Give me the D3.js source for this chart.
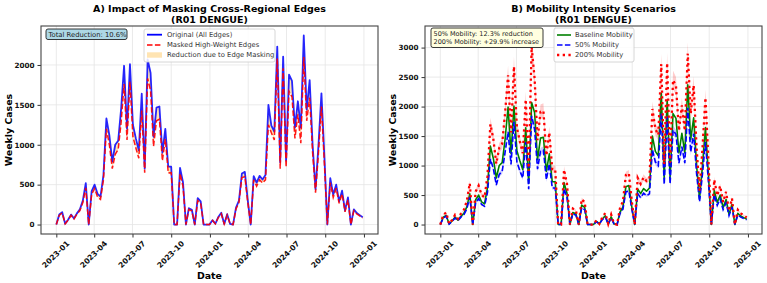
<!DOCTYPE html>
<html>
<head>
<meta charset="utf-8">
<script src="https://cdn.jsdelivr.net/npm/d3@7"></script>
<style>
  body { margin: 0; background: #fff; }
  svg { display: block; font-family: 'DejaVu Sans', sans-serif; }
</style>
</head>
<body>
<div id="chart"></div>
<script>
  'use strict';

  // weekly series, first week starting 2023-01-01
  var startDate = '2023-01-01';

  var original = [0, 125, 155, 10, 60, 125, 75, 140, 190, 300, 520, 0, 420, 500, 385, 350, 620, 1330, 1120, 790,
    1000, 1050, 1450, 1990, 1200, 2010, 1250, 1080, 930, 1640, 700, 2070, 1900, 1100, 1465, 1480, 900, 1200, 725, 725,
    0, 0, 710, 530, 0, 205, 185, 0, 330, 290, 0, 0, 0, 55, 10, 95, 148, 8, 130, 8,
    0, 212, 300, 640, 660, 300, 0, 606, 525, 610, 565, 620, 1500, 1240, 1165, 2230, 780, 2105, 800, 1880,
    1800, 1215, 1545, 1215, 2370, 1440, 1810, 1000, 440, 1000, 1645, 850, 0, 580, 375, 500, 290, 425, 175, 340,
    0, 190, 145, 118, 92];

  var masked = [0, 115, 145, 9, 55, 115, 70, 130, 175, 275, 460, 0, 380, 450, 345, 315, 560, 1200, 1000, 700,
    880, 940, 1280, 1760, 1060, 1790, 1100, 960, 830, 1430, 650, 1830, 1680, 980, 1300, 1320, 800, 1070, 645, 650,
    0, 0, 640, 480, 0, 190, 170, 0, 300, 265, 0, 0, 0, 50, 9, 88, 135, 7, 118, 7,
    0, 195, 275, 590, 600, 275, 0, 560, 480, 560, 520, 560, 1250, 1150, 1060, 2080, 700, 1960, 720, 1670,
    1600, 1080, 1380, 1020, 2100, 1300, 1590, 900, 400, 900, 1480, 760, 0, 525, 340, 455, 265, 385, 160, 310,
    0, 172, 132, 108, 84];

  var baseline = original.slice();

  var mob50 = [0, 110, 140, 9, 53, 110, 66, 125, 168, 265, 470, 0, 370, 440, 340, 310, 540, 1110, 950, 670,
    850, 900, 1230, 1570, 1020, 1740, 1060, 910, 790, 1400, 600, 1840, 1620, 940, 1240, 1260, 760, 1030, 620, 620,
    0, 0, 610, 455, 0, 180, 160, 0, 285, 250, 0, 0, 0, 48, 9, 83, 128, 7, 112, 7,
    0, 185, 262, 555, 570, 260, 0, 525, 455, 530, 490, 520, 1270, 1060, 1000, 1890, 680, 1830, 690, 1600,
    1530, 1040, 1320, 1040, 1980, 1230, 1540, 860, 385, 860, 1400, 730, 0, 505, 325, 435, 252, 370, 152, 295,
    0, 165, 126, 103, 80];

  var mob200 = [0, 165, 205, 13, 78, 165, 98, 185, 250, 400, 700, 0, 560, 660, 505, 460, 820, 1700, 1450, 1030,
    1300, 1370, 1900, 2530, 1560, 2680, 1640, 1410, 1210, 2120, 910, 3010, 2480, 1430, 1910, 1930, 1170, 1560, 940, 940,
    0, 0, 930, 690, 0, 270, 240, 0, 430, 380, 0, 0, 0, 72, 13, 125, 195, 10, 170, 10,
    0, 280, 395, 840, 870, 395, 0, 790, 690, 800, 740, 780, 1960, 1620, 1520, 2720, 1020, 2740, 1050, 2450,
    2350, 1590, 2020, 1590, 2900, 1880, 2360, 1300, 575, 1300, 2150, 1110, 0, 760, 490, 655, 380, 555, 230, 445,
    0, 250, 190, 155, 120];

  // relative width of the uncertainty bands in panel B
  var band50 = 0.05, band200 = 0.065;

  var yTicksA = [0, 500, 1000, 1500, 2000];
  var yTicksB = [0, 500, 1000, 1500, 2000, 2500, 3000];

  var titlesA = ['A) Impact of Masking Cross-Regional Edges', '(R01 DENGUE)'];
  var titlesB = ['B) Mobility Intensity Scenarios', '(R01 DENGUE)'];
  var legendA = ['Original (All Edges)', 'Masked High-Weight Edges', 'Reduction due to Edge Masking'];
  var legendB = ['Baseline Mobility', '50% Mobility', '200% Mobility'];
  var noteA = ['Total Reduction: 10.6%'];
  var noteB = ['50% Mobility: 12.3% reduction', '200% Mobility: +29.9% increase'];

  var w = 767, h = 283;
  var t0 = d3.utcParse('%Y-%m-%d')(startDate);
  var dates = original.map(function(d, i) { return d3.utcWeek.offset(t0, i); });

  var svg = d3.select('#chart').append('svg')
    .attr('width', w)
    .attr('height', h);

  function padded(lo, hi) {
    var r = hi - lo;
    return [lo - r * 0.05, hi + r * 0.05];
  }

  function setupPanel(box, yMax, yTicks, titles) {
    var g = svg.append('g');
    var xd = padded(+dates[0], +dates[dates.length - 1]);
    var x = d3.scaleUtc().domain([new Date(xd[0]), new Date(xd[1])]).range([box.left, box.right]);
    var y = d3.scaleLinear().domain(padded(0, yMax)).range([box.bottom, box.top]);
    var xTicks = x.ticks(d3.utcMonth.every(3));

    // grid
    g.append('g').selectAll('line.gx').data(xTicks).enter().append('line')
      .attr('x1', function(d) { return x(d); }).attr('x2', function(d) { return x(d); })
      .attr('y1', box.top).attr('y2', box.bottom)
      .attr('stroke', '#e4e4e4').attr('stroke-width', 0.8);
    g.append('g').selectAll('line.gy').data(yTicks).enter().append('line')
      .attr('x1', box.left).attr('x2', box.right)
      .attr('y1', function(d) { return y(d); }).attr('y2', function(d) { return y(d); })
      .attr('stroke', '#e4e4e4').attr('stroke-width', 0.8);

    // axes
    var yAxis = d3.axisLeft(y).tickValues(yTicks).tickSize(3.5).tickPadding(3).tickFormat(d3.format('d'));
    var ya = g.append('g').attr('transform', 'translate(' + box.left + ',0)').call(yAxis);
    ya.select('.domain').remove();
    ya.selectAll('line').attr('stroke', '#333');
    ya.selectAll('text').attr('font-size', 7.2).attr('font-weight', 'bold').attr('fill', '#111')
      .attr('font-family', 'DejaVu Sans');

    var xAxis = d3.axisBottom(x).tickValues(xTicks).tickSize(3.5).tickFormat(d3.utcFormat('%Y-%m'));
    var xa = g.append('g').attr('transform', 'translate(0,' + box.bottom + ')').call(xAxis);
    xa.select('.domain').remove();
    xa.selectAll('line').attr('stroke', '#333');
    xa.selectAll('text')
      .attr('font-size', 7.6).attr('font-weight', 'bold').attr('fill', '#111')
      .attr('font-family', 'DejaVu Sans')
      .attr('text-anchor', 'middle').attr('dy', null).attr('y', 0)
      .attr('dominant-baseline', 'central')
      .attr('transform', 'translate(-1,20.5) rotate(-45)');

    var cx = (box.left + box.right) / 2;
    g.append('text').attr('x', cx).attr('y', 11.6).attr('text-anchor', 'middle')
      .attr('font-size', 9.5).attr('font-weight', 'bold').text(titles[0]);
    g.append('text').attr('x', cx).attr('y', 22.6).attr('text-anchor', 'middle')
      .attr('font-size', 9.5).attr('font-weight', 'bold').text(titles[1]);
    g.append('text').attr('x', cx).attr('y', 278.5).attr('text-anchor', 'middle')
      .attr('font-size', 9.4).attr('font-weight', 'bold').text('Date');
    g.append('text').attr('transform', 'translate(' + (box.left - 29) + ',' + ((box.top + box.bottom) / 2) + ') rotate(-90)')
      .attr('text-anchor', 'middle').attr('font-size', 9.4).attr('font-weight', 'bold').text('Weekly Cases');

    var plot = g.append('g');
    return {g: g, plot: plot, x: x, y: y, box: box};
  }

  function frame(p) {
    p.g.append('rect').attr('x', p.box.left).attr('y', p.box.top)
      .attr('width', p.box.right - p.box.left).attr('height', p.box.bottom - p.box.top)
      .attr('fill', 'none').attr('stroke', '#444').attr('stroke-width', 1.1);
  }

  function note(g, x0, y0, bw, bh, lines, fill, fs) {
    g.append('rect').attr('x', x0).attr('y', y0).attr('width', bw).attr('height', bh)
      .attr('rx', 2).attr('fill', fill).attr('stroke', '#222').attr('stroke-width', 0.9);
    lines.forEach(function(s, i) {
      g.append('text').attr('x', x0 + 2.5).attr('y', y0 + 7.8 + i * 8.4)
        .attr('font-size', fs).attr('fill', '#222').text(s);
    });
  }

  function legendBox(g, x0, y0, bw, bh) {
    g.append('rect').attr('x', x0).attr('y', y0).attr('width', bw).attr('height', bh)
      .attr('rx', 2).attr('fill', '#fff').attr('fill-opacity', 0.85).attr('stroke', '#ccc').attr('stroke-width', 0.8);
  }

  function legendText(g, x0, yc, s) {
    g.append('text').attr('x', x0).attr('y', yc).attr('dominant-baseline', 'central')
      .attr('font-size', 6.8).attr('fill', '#333').text(s);
  }

  // ---------- Panel A ----------
  var pA = setupPanel({left: 41, right: 378, top: 26, bottom: 234}, d3.max(original), yTicksA, titlesA);

  var areaA = d3.area()
    .x(function(d, i) { return pA.x(dates[i]); })
    .y0(function(d, i) { return pA.y(masked[i]); })
    .y1(function(d, i) { return pA.y(original[i]); });
  pA.plot.append('path').datum(original).attr('d', areaA)
    .attr('fill', 'orange').attr('fill-opacity', 0.3);

  var lineA = function(vals) {
    return d3.line().x(function(d, i) { return pA.x(dates[i]); }).y(function(d) { return pA.y(d); })(vals);
  };
  pA.plot.append('path').attr('d', lineA(original))
    .attr('fill', 'none').attr('stroke', 'blue').attr('stroke-opacity', 0.85).attr('stroke-width', 1.8)
    .attr('stroke-linejoin', 'round');
  pA.plot.append('path').attr('d', lineA(masked))
    .attr('fill', 'none').attr('stroke', 'red').attr('stroke-opacity', 0.9).attr('stroke-width', 1.5)
    .attr('stroke-dasharray', '5.5,2.4');
  frame(pA);

  note(pA.g, 46, 29, 81, 10.5, noteA, '#add8e6', 6.8);
  legendBox(pA.g, 144, 29, 131, 33);
  pA.g.append('line').attr('x1', 147).attr('x2', 162).attr('y1', 34.7).attr('y2', 34.7)
    .attr('stroke', 'blue').attr('stroke-width', 1.8);
  pA.g.append('line').attr('x1', 147).attr('x2', 162).attr('y1', 45).attr('y2', 45)
    .attr('stroke', 'red').attr('stroke-width', 1.5).attr('stroke-dasharray', '5.5,2.4');
  pA.g.append('rect').attr('x', 147).attr('y', 52.3).attr('width', 15).attr('height', 5.4)
    .attr('fill', 'orange').attr('fill-opacity', 0.3);
  legendA.forEach(function(s, i) { legendText(pA.g, 167, 34.7 + i * 10.2, s); });

  // ---------- Panel B ----------
  var yMaxB = d3.max(mob200) * (1 + band200);
  var pB = setupPanel({left: 425, right: 762, top: 26, bottom: 234}, yMaxB, yTicksB, titlesB);

  function band(vals, frac) {
    return d3.area()
      .x(function(d, i) { return pB.x(dates[i]); })
      .y0(function(d) { return pB.y(d * (1 - frac)); })
      .y1(function(d) { return pB.y(d * (1 + frac)); })(vals);
  }
  var lineB = function(vals) {
    return d3.line().x(function(d, i) { return pB.x(dates[i]); }).y(function(d) { return pB.y(d); })(vals);
  };

  pB.plot.append('path').attr('d', band(mob50, band50)).attr('fill', 'blue').attr('fill-opacity', 0.2);
  pB.plot.append('path').attr('d', band(mob200, band200)).attr('fill', 'red').attr('fill-opacity', 0.2);
  pB.plot.append('path').attr('d', lineB(baseline))
    .attr('fill', 'none').attr('stroke', 'green').attr('stroke-width', 1.6).attr('stroke-linejoin', 'round');
  pB.plot.append('path').attr('d', lineB(mob50))
    .attr('fill', 'none').attr('stroke', 'blue').attr('stroke-width', 1.6).attr('stroke-dasharray', '5.5,2.4');
  pB.plot.append('path').attr('d', lineB(mob200))
    .attr('fill', 'none').attr('stroke', 'red').attr('stroke-width', 2.3).attr('stroke-dasharray', '2.3,3.4');
  frame(pB);

  note(pB.g, 431, 28, 112, 19.5, noteB, '#ffffe0', 6.5);
  legendBox(pB.g, 554, 28, 80, 34);
  pB.g.append('line').attr('x1', 557).attr('x2', 571).attr('y1', 35).attr('y2', 35)
    .attr('stroke', 'green').attr('stroke-width', 1.6);
  pB.g.append('line').attr('x1', 557).attr('x2', 571).attr('y1', 45).attr('y2', 45)
    .attr('stroke', 'blue').attr('stroke-width', 1.6).attr('stroke-dasharray', '5.5,2.4');
  pB.g.append('line').attr('x1', 557).attr('x2', 571).attr('y1', 55).attr('y2', 55)
    .attr('stroke', 'red').attr('stroke-width', 2.3).attr('stroke-dasharray', '2.3,3.4');
  legendB.forEach(function(s, i) { legendText(pB.g, 575, 35 + i * 10, s); });
</script>
</body>
</html>
